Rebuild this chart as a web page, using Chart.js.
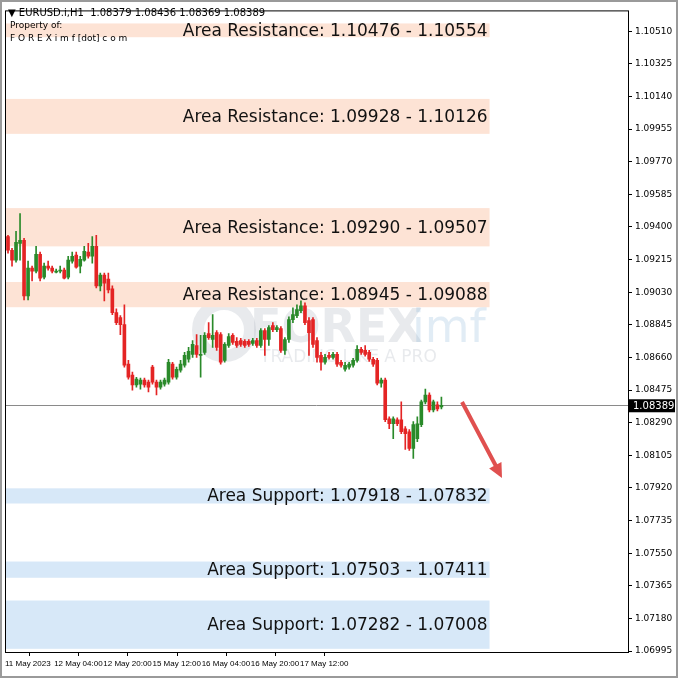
<!DOCTYPE html>
<html>
<head>
<meta charset="utf-8">
<script src="https://cdn.jsdelivr.net/npm/chart.js@4.4.0/dist/chart.umd.min.js"></script>
<style>
  html, body { margin: 0; padding: 0; background: #fff; }
  #wrap { width: 678px; height: 678px; box-sizing: border-box; border: 2px solid #9a9a9a; }
  canvas { display: block; }
</style>
</head>
<body>
<div id="wrap"><canvas id="chart" width="674" height="674"></canvas></div>
<script>
// EURUSD.i H1 candles, prices in 1e-5 units
const OPEN  = [109346,109268,109212,109307,109324,109009,109167,109150,109245,109116,109178,109167,109144,109150,109155,109116,109206,109240,109178,109212,109257,109234,109290,109066,109127,109105,109049,108914,108886,108846,108622,108560,108504,108509,108532,108520,108605,108520,108492,108509,108520,108622,108548,108588,108616,108650,108678,108728,108672,108689,108796,108762,108801,108790,108644,108728,108785,108751,108756,108751,108751,108740,108756,108728,108813,108762,108841,108818,108824,108700,108762,108875,108897,108925,108953,108869,108875,108756,108672,108633,108672,108661,108678,108633,108593,108605,108616,108644,108706,108700,108689,108650,108644,108515,108532,108312,108284,108307,108307,108256,108239,108144,108200,108279,108408,108447,108363,108391,108379];
const CLOSE = [109268,109212,109313,109324,109009,109167,109150,109245,109110,109178,109167,109150,109150,109155,109110,109212,109234,109172,109217,109262,109234,109290,109066,109127,109082,109043,108914,108858,108846,108616,108548,108504,108537,108532,108504,108492,108520,108492,108520,108532,108633,108548,108593,108622,108672,108695,108734,108678,108678,108785,108773,108785,108717,108633,108734,108779,108745,108728,108734,108728,108734,108756,108728,108813,108762,108830,108818,108830,108700,108762,108875,108903,108931,108953,108858,108801,108734,108661,108633,108661,108661,108678,108622,108616,108616,108622,108644,108706,108689,108678,108650,108622,108515,108532,108307,108284,108312,108284,108239,108228,108144,108279,108284,108408,108447,108363,108408,108369,108389];
const HIGH  = [109352,109279,109375,109476,109335,109206,109178,109290,109257,109195,109206,109178,109161,109178,109167,109234,109257,109257,109234,109290,109307,109346,109352,109139,109139,109139,109066,108936,108897,108959,108644,108577,108548,108543,108543,108532,108616,108532,108532,108543,108650,108633,108605,108644,108689,108717,108756,108790,108785,108801,108858,108903,108813,108801,108745,108796,108796,108773,108768,108762,108762,108768,108768,108824,108824,108841,108858,108841,108835,108773,108891,108942,108959,108981,108970,108886,108886,108773,108689,108678,108689,108689,108689,108644,108633,108633,108655,108728,108717,108728,108700,108661,108655,108543,108543,108324,108324,108318,108408,108268,108251,108296,108324,108419,108481,108459,108419,108408,108436];
const LOW   = [109251,109178,109200,109212,108987,108987,109094,109139,109094,109105,109155,109139,109139,109139,109105,109105,109195,109167,109139,109206,109223,109195,109054,109037,108981,109026,108903,108846,108790,108605,108537,108475,108492,108481,108492,108464,108509,108447,108481,108498,108509,108537,108537,108577,108605,108633,108661,108661,108548,108678,108762,108717,108700,108622,108633,108717,108734,108717,108723,108717,108723,108728,108717,108717,108672,108728,108807,108807,108689,108678,108745,108858,108886,108914,108846,108672,108717,108633,108588,108622,108650,108650,108610,108605,108582,108593,108605,108633,108678,108667,108638,108610,108504,108492,108296,108256,108200,108273,108228,108138,108133,108088,108183,108268,108397,108352,108352,108357,108369];

const ZONES_RES = [[1.10476, 1.10554], [1.09928, 1.10126], [1.09290, 1.09507], [1.08945, 1.09088]];
const ZONES_SUP = [[1.07918, 1.07832], [1.07503, 1.07411], [1.07282, 1.07008]];
const ZONE_END = 120; // candle index where the zone boxes stop

const PRICE_TICKS = [1.10510,1.10325,1.10140,1.09955,1.09770,1.09585,1.09400,1.09215,1.09030,1.08845,1.08660,1.08475,1.08290,1.08105,1.07920,1.07735,1.07550,1.07365,1.07180,1.06995];
const TIME_LABELS = ['11 May 2023','12 May 04:00','12 May 20:00','15 May 12:00','16 May 04:00','16 May 20:00','17 May 12:00'];
const TIME_POS = [-0.75, 11.5, 23.75, 36, 48.25, 60.5, 72.75];
const LAST_PRICE = 1.08389;

const GREEN = '#2a8a2a';
const RED = '#e42424';

const p = v => v / 100000;
const wicks = OPEN.map((o, i) => ({ x: i, y: [p(LOW[i]), p(HIGH[i])] }));
const bodies = OPEN.map((o, i) => ({ x: i, y: [p(o), p(CLOSE[i])] }));
const colorOf = (i) => CLOSE[i] > OPEN[i] ? GREEN : (CLOSE[i] < OPEN[i] ? RED : '#000');
const cols = OPEN.map((_, i) => colorOf(i));

const overlay = {
    id: 'overlay',
    beforeDatasetsDraw(chart) {
        const { ctx, chartArea: a, scales: { x, y } } = chart;
        const xe = x.getPixelForValue(ZONE_END);
        ctx.save();
        // watermark
        ctx.fillStyle = 'rgba(150,160,175,0.22)';
        ctx.font = 'bold 46px "DejaVu Sans"';
        ctx.textAlign = 'left';
        ctx.textBaseline = 'middle';
        ctx.fillText('FOREX', 248, 328);
        ctx.fillStyle = 'rgba(120,170,210,0.22)';
        ctx.font = '46px "DejaVu Sans"';
        ctx.fillText('imf', 410, 328);
        ctx.beginPath();
        ctx.arc(222, 328, 26, 0, Math.PI * 2);
        ctx.lineWidth = 12;
        ctx.strokeStyle = 'rgba(150,160,175,0.22)';
        ctx.stroke();
        ctx.fillStyle = 'rgba(150,160,175,0.22)';
        ctx.font = '17px "DejaVu Sans"';
        ctx.fillText('TRADING LIKE A PRO', 258, 356);

        const drawZone = (z, fill, label) => {
            const y1 = y.getPixelForValue(Math.max(z[0], z[1]));
            const y2 = y.getPixelForValue(Math.min(z[0], z[1]));
            ctx.fillStyle = fill;
            ctx.fillRect(a.left, y1, xe - a.left, y2 - y1);
            ctx.fillStyle = '#111';
            ctx.font = '17px "DejaVu Sans"';
            ctx.textAlign = 'right';
            ctx.textBaseline = 'middle';
            ctx.fillText(label + z[0].toFixed(5) + ' - ' + z[1].toFixed(5), xe - 2, (y1 + y2) / 2 + 1);
        };
        ZONES_RES.forEach(z => drawZone(z, '#fde3d5', 'Area Resistance: '));
        ZONES_SUP.forEach(z => drawZone(z, '#d7e8f8', 'Area Support: '));

        // last price line
        const yl = y.getPixelForValue(LAST_PRICE);
        ctx.strokeStyle = '#8a8a8a';
        ctx.lineWidth = 1;
        ctx.beginPath();
        ctx.moveTo(a.left, Math.round(yl) + 0.5);
        ctx.lineTo(a.right, Math.round(yl) + 0.5);
        ctx.stroke();
        ctx.restore();
    },
    afterDraw(chart) {
        const { ctx, chartArea: a, scales: { y } } = chart;
        ctx.save();
        ctx.strokeStyle = '#000';
        ctx.lineWidth = 1;
        ctx.strokeRect(a.left + 0.5, a.top + 0.5, a.right - a.left, a.bottom - a.top);

        // arrow
        const ax1 = 460, ay1 = 400, ax2 = 500, ay2 = 476;
        ctx.strokeStyle = '#e0504f';
        ctx.fillStyle = '#e0504f';
        ctx.lineWidth = 4;
        ctx.beginPath();
        ctx.moveTo(ax1, ay1);
        ctx.lineTo(ax2 - 5, ay2 - 10);
        ctx.stroke();
        const ang = Math.atan2(ay2 - ay1, ax2 - ax1);
        ctx.beginPath();
        ctx.moveTo(ax2, ay2);
        ctx.lineTo(ax2 - 16 * Math.cos(ang - 0.45), ay2 - 16 * Math.sin(ang - 0.45));
        ctx.lineTo(ax2 - 16 * Math.cos(ang + 0.45), ay2 - 16 * Math.sin(ang + 0.45));
        ctx.closePath();
        ctx.fill();

        // price tag
        const yl = y.getPixelForValue(LAST_PRICE);
        ctx.fillStyle = '#000';
        ctx.fillRect(a.right + 1, yl - 6, 46, 13);
        ctx.fillStyle = '#fff';
        ctx.font = '10px "DejaVu Sans"';
        ctx.textAlign = 'left';
        ctx.textBaseline = 'middle';
        ctx.fillText(LAST_PRICE.toFixed(5), a.right + 5, yl + 1);

        // header
        ctx.fillStyle = '#000';
        ctx.font = '10px "DejaVu Sans"';
        ctx.fillText('\u25BC EURUSD.i,H1  1.08379 1.08436 1.08369 1.08389', a.left + 3, 11);
        ctx.font = '9px "DejaVu Sans"';
        ctx.fillText('Property of:', a.left + 5, 24);
        ctx.fillText('F O R E X i m f [dot] c o m', a.left + 5, 37);
        ctx.restore();
    }
};

new Chart(document.getElementById('chart'), {
    type: 'bar',
    data: {
        datasets: [
            { data: wicks, backgroundColor: cols, barThickness: 1, grouped: false, order: 2 },
            { data: bodies, backgroundColor: cols, barThickness: 3, grouped: false, order: 1 }
        ]
    },
    options: {
        responsive: false,
        animation: false,
        layout: { padding: { left: 3, top: 3 } },
        plugins: { legend: { display: false }, tooltip: { enabled: false } },
        scales: {
            x: {
                type: 'linear',
                min: -0.75,
                max: 154.5,
                offset: false,
                grid: { drawOnChartArea: false, tickLength: 4, color: '#000' },
                border: { display: false },
                afterBuildTicks: s => { s.ticks = TIME_POS.map(v => ({ value: v })); },
                afterFit: s => { s.height = 24; },
                ticks: {
                    autoSkip: false,
                    maxRotation: 0,
                    align: 'start',
                    padding: 3,
                    color: '#000',
                    font: { family: 'Liberation Sans', size: 8 },
                    callback: (v, i) => TIME_LABELS[i]
                }
            },
            y: {
                position: 'right',
                min: 1.06990,
                max: 1.10628,
                grid: { drawOnChartArea: false, tickLength: 4, color: '#000' },
                border: { display: false },
                afterBuildTicks: s => { s.ticks = PRICE_TICKS.map(v => ({ value: v })); },
                afterFit: s => { s.width = 48; },
                ticks: {
                    autoSkip: false,
                    padding: 3,
                    color: '#000',
                    font: { family: 'DejaVu Sans', size: 9 },
                    callback: v => v.toFixed(5)
                }
            }
        }
    },
    plugins: [overlay]
});
</script>
</body>
</html>
